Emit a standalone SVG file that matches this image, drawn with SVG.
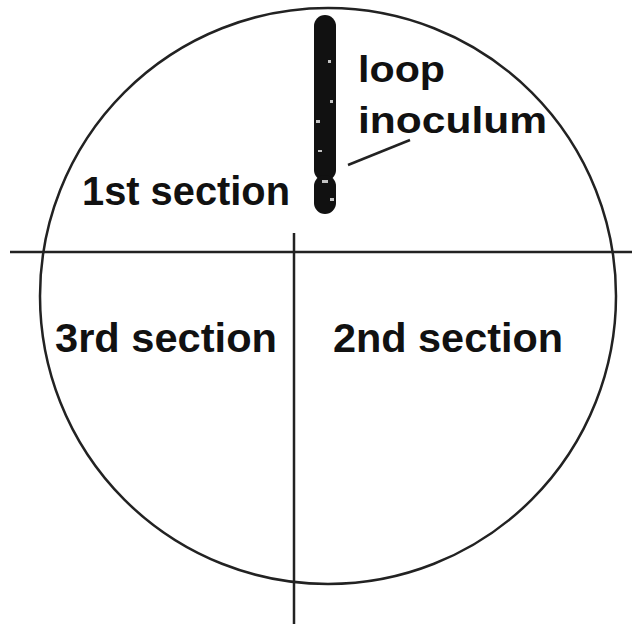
<svg xmlns="http://www.w3.org/2000/svg" width="632" height="624" viewBox="0 0 632 624">
  <style>
    .ln { stroke: #222; stroke-width: 2.5; fill: none; }
    .lbl { font-family: "Liberation Sans", Arial, sans-serif; font-weight: bold; font-size: 40px; fill: #111; }
    .note { font-family: "Liberation Sans", Arial, sans-serif; font-weight: bold; font-size: 37px; fill: #111; }
    .streak { stroke: #111; stroke-width: 22; stroke-linecap: round; fill: none; }
    .speck { fill: #fff; opacity: 0.75; }
  </style>
  <rect x="0" y="0" width="632" height="624" fill="#fff"/>
  <g id="connectors">
    <circle class="ln" cx="328" cy="296" r="288"/>
    <line class="ln" x1="10" y1="252" x2="632" y2="252"/>
    <line class="ln" x1="294" y1="233" x2="294" y2="624"/>
    <line class="ln" x1="348" y1="165" x2="410" y2="140" stroke-width="2"/>
  </g>
  <g id="loop-streak">
    <line class="streak" x1="325" y1="26" x2="325" y2="170"/>
    <line class="streak" x1="325" y1="186" x2="325" y2="203"/>
    <rect class="speck" x="316" y="120" width="4" height="3"/>
    <rect class="speck" x="330" y="100" width="3" height="3"/>
    <rect class="speck" x="318" y="150" width="4" height="2"/>
    <rect class="speck" x="322" y="180" width="6" height="3"/>
    <rect class="speck" x="328" y="60" width="3" height="3"/>
    <rect class="speck" x="330" y="198" width="4" height="3"/>
  </g>
  <g id="loop-inoculum-label">
    <text class="note" x="358" y="82" textLength="87" lengthAdjust="spacingAndGlyphs">loop</text>
    <text class="note" x="358" y="133" textLength="189" lengthAdjust="spacingAndGlyphs">inoculum</text>
  </g>
  <g id="section-1">
    <text class="lbl" x="82" y="205" textLength="208" lengthAdjust="spacingAndGlyphs">1st section</text>
  </g>
  <g id="section-3">
    <text class="lbl" x="55" y="352" textLength="222" lengthAdjust="spacingAndGlyphs">3rd section</text>
  </g>
  <g id="section-2">
    <text class="lbl" x="333" y="352" textLength="230" lengthAdjust="spacingAndGlyphs">2nd section</text>
  </g>
</svg>
